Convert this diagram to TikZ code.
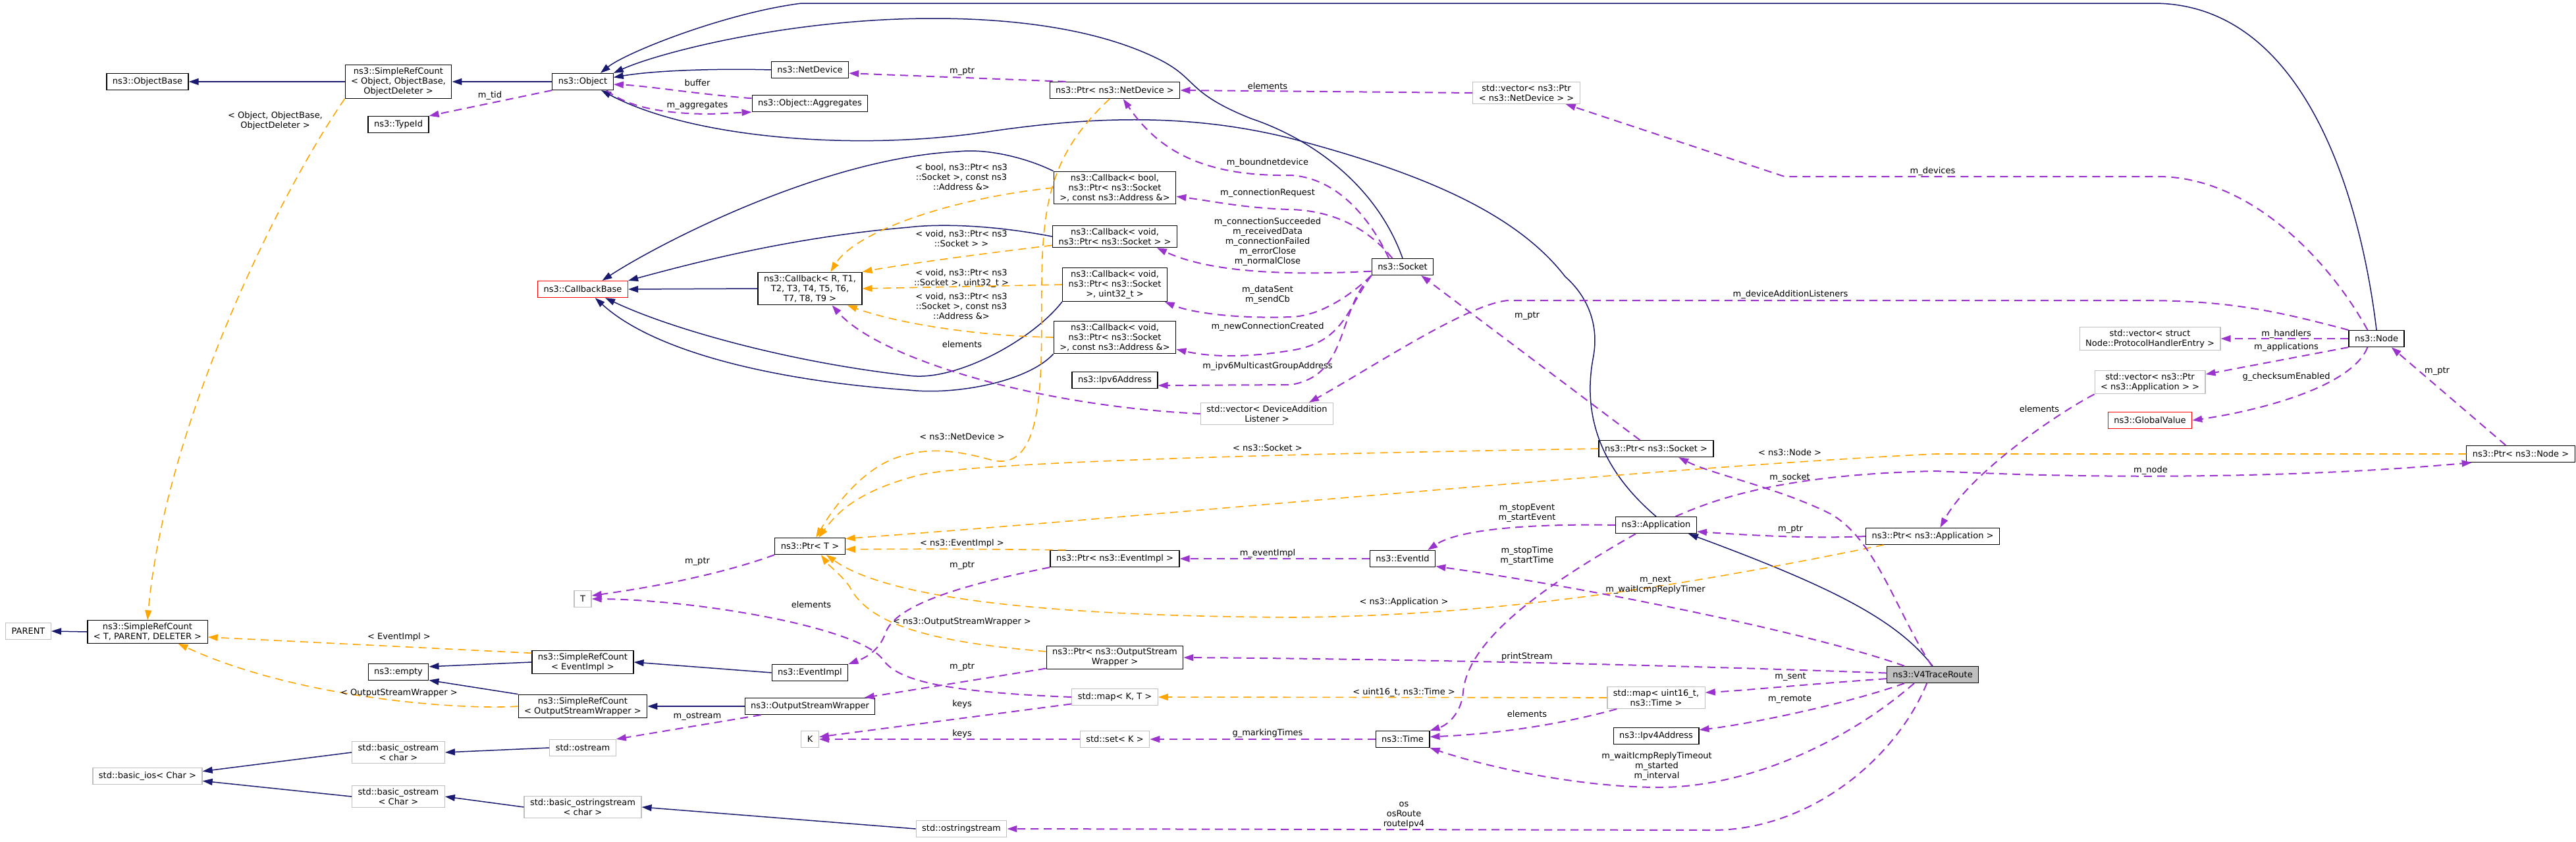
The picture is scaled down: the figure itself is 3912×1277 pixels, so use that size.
\documentclass[tikz,border=0pt]{standalone}
\usepackage{fontspec}
\setmainfont{DejaVu Sans}
\usetikzlibrary{arrows.meta}

\definecolor{inhblue}{HTML}{191970}
\definecolor{usepurple}{HTML}{9A32CD}
\definecolor{tmplorange}{HTML}{FFA500}
\definecolor{undocgray}{HTML}{BFBFBF}

\tikzset{
  dxfont/.style={font=\fontsize{13}{15}\selectfont},
  cls/.style={draw=black, line width=1.2pt, fill=white, align=center, inner xsep=9pt, inner ysep=4pt, minimum height=25pt, dxfont},
  undoc/.style={cls, draw=undocgray},
  trunc/.style={cls, draw=red},
  focus/.style={cls, fill=undocgray},
  inh/.style={->, >={Triangle[length=15pt,width=10pt]}, draw=inhblue, line width=1.5pt},
  use/.style={->, >={Triangle[length=15pt,width=10pt]}, draw=usepurple, line width=2pt, dash pattern=on 12pt off 8pt},
  tmpl/.style={->, >={Triangle[length=15pt,width=10pt]}, draw=tmplorange, line width=1.6pt, dash pattern=on 12pt off 8pt},
  lbl/.style={align=center, inner sep=0pt, dxfont}
}

\begin{document}
\begin{tikzpicture}[x=1pt, y=-1pt]
    \useasboundingbox (0,0) rectangle (3912,1277);

    % Classes, top part
    \node[cls] (obase) at (224,124) {ns3::ObjectBase};
    \node[cls] (srcobj) at (605,124) {ns3::SimpleRefCount\\< Object, ObjectBase,\\ ObjectDeleter >};
    \node[cls] (object) at (885,124) {ns3::Object};
    \node[cls] (typeid) at (605,189) {ns3::TypeId};
    \node[cls] (netdev) at (1230,106) {ns3::NetDevice};
    \node[cls] (aggr) at (1230,157) {ns3::Object::Aggregates};
    \node[cls] (ptrnd) at (1693,137) {ns3::Ptr< ns3::NetDevice >};
    \node[undoc] (vecnd) at (2318,141) {std::vector< ns3::Ptr\\< ns3::NetDevice > >};
    \node[trunc] (cbbase) at (885,439) {ns3::CallbackBase};
    \node[cls] (cbgen) at (1230,438) {ns3::Callback< R, T1,\\ T2, T3, T4, T5, T6,\\ T7, T8, T9 >};
    \node[cls] (cbbool) at (1693,285) {ns3::Callback< bool,\\ ns3::Ptr< ns3::Socket\\ >, const ns3::Address \&>};
    \node[cls] (cbvoid) at (1693,359) {ns3::Callback< void,\\ ns3::Ptr< ns3::Socket > >};
    \node[cls] (cbuint) at (1693,432) {ns3::Callback< void,\\ ns3::Ptr< ns3::Socket\\ >, uint32\_t >};
    \node[cls] (cbaddr) at (1693,512) {ns3::Callback< void,\\ ns3::Ptr< ns3::Socket\\ >, const ns3::Address \&>};
    \node[cls] (ipv6) at (1693,577) {ns3::Ipv6Address};
    \node[undoc] (vecdal) at (1924,628) {std::vector< DeviceAddition\\ Listener >};
    \node[cls] (socket) at (2130,405) {ns3::Socket};
    \node[cls] (ptrsock) at (2515,681) {ns3::Ptr< ns3::Socket >};
    \node[cls] (app) at (2515,797) {ns3::Application};
    \node[cls] (ptrapp) at (2935,814) {ns3::Ptr< ns3::Application >};
    \node[cls] (eventid) at (2130,848) {ns3::EventId};
    \node[cls] (node) at (3609,514) {ns3::Node};
    \node[undoc] (vecphe) at (3265,514) {std::vector< struct\\ Node::ProtocolHandlerEntry >};
    \node[undoc] (vecapp) at (3265,580) {std::vector< ns3::Ptr\\< ns3::Application > >};
    \node[trunc] (gval) at (3265,638) {ns3::GlobalValue};
    \node[cls] (ptrnode) at (3828,689) {ns3::Ptr< ns3::Node >};

    % Classes, bottom part
    \node[cls] (ptrt) at (1230,829) {ns3::Ptr< T >};
    \node[cls] (ptrev) at (1693,848) {ns3::Ptr< ns3::EventImpl >};
    \node[undoc] (tparam) at (885,909) {T};
    \node[undoc] (parent) at (43,958) {PARENT};
    \node[cls] (srct) at (224,959) {ns3::SimpleRefCount\\< T, PARENT, DELETER >};
    \node[cls] (srcev) at (885,1005) {ns3::SimpleRefCount\\< EventImpl >};
    \node[cls] (empty) at (605,1020) {ns3::empty};
    \node[cls] (srcosw) at (885,1072) {ns3::SimpleRefCount\\< OutputStreamWrapper >};
    \node[cls] (evimpl) at (1230,1021) {ns3::EventImpl};
    \node[cls] (osw) at (1230,1072) {ns3::OutputStreamWrapper};
    \node[undoc] (kparam) at (1230,1122) {K};
    \node[cls] (ptrosw) at (1693,998) {ns3::Ptr< ns3::OutputStream\\ Wrapper >};
    \node[undoc] (mapkt) at (1693,1058) {std::map< K, T >};
    \node[undoc] (setk) at (1693,1122) {std::set< K >};
    \node[undoc] (oss) at (1460,1258) {std::ostringstream};
    \node[undoc] (bos1) at (605,1142) {std::basic\_ostream\\< char >};
    \node[undoc] (ostr) at (885,1135) {std::ostream};
    \node[undoc] (bios) at (224,1178) {std::basic\_ios< Char >};
    \node[undoc] (bos2) at (605,1209) {std::basic\_ostream\\< Char >};
    \node[undoc] (bostrs) at (885,1225) {std::basic\_ostringstream\\< char >};
    \node[focus] (v4) at (2935,1024) {ns3::V4TraceRoute};
    \node[undoc] (mapu) at (2515,1059) {std::map< uint16\_t,\\ ns3::Time >};
    \node[cls] (time) at (2130,1122) {ns3::Time};
    \node[cls] (ipv4) at (2515,1117) {ns3::Ipv4Address};

    % Inheritance
    \draw[inh] (srcobj.west) -- (obase.east);
    \draw[inh] (object.west) -- (srcobj.east);
    \draw[inh] (netdev.west) .. controls (1100,104) and (1000,106) .. (object.8);
    \draw[inh] (node.north) .. controls (3585,300) and (3500,5) .. (3270,5) -- (1217,5) .. controls (1100,20) and (950,80) .. (object.26);
    \draw[inh] (socket.north) .. controls (2090,280) and (1990,210) .. (1900,180) .. controls (1800,140) and (1820,120) .. (1760,90) .. controls (1650,35) and (1500,28) .. (1417,28) .. controls (1200,28) and (1000,80) .. (object.north east);
    \draw[inh] (app.north) .. controls (2440,720) and (2400,640) .. (2420,540) .. controls (2430,480) and (2400,440) .. (2377,420) .. controls (2300,320) and (2150,260) .. (1960,210) .. controls (1800,170) and (1650,178) .. (1500,200) .. controls (1300,230) and (1050,210) .. (object.-25);
    \draw[inh] (cbgen.west) -- (cbbase.east);
    \draw[inh] (cbbool.north west) .. controls (1560,240) and (1500,225) .. (1455,230) .. controls (1250,240) and (1000,370) .. (cbbase.24);
    \draw[inh] (cbvoid.west) .. controls (1500,340) and (1420,340) .. (1380,345) .. controls (1200,360) and (1050,400) .. (cbbase.north east);
    \draw[inh] (cbuint.south west) .. controls (1567,517) and (1450,580) .. (1380,570) .. controls (1200,550) and (1020,500) .. (cbbase.-21);
    \draw[inh] (cbaddr.south west) .. controls (1560,580) and (1450,600) .. (1380,592) .. controls (1200,580) and (1000,540) .. (cbbase.-35);
    \draw[inh] (srct.west) -- (parent.east);
    \draw[inh] (srcev.west) -- (empty.10);
    \draw[inh] (srcosw.north west) -- (empty.-15);
    \draw[inh] (evimpl.west) -- (srcev.east);
    \draw[inh] (osw.west) -- (srcosw.east);
    \draw[inh] (bos1.west) -- (bios.5);
    \draw[inh] (bos2.west) -- (bios.-5);
    \draw[inh] (ostr.west) -- (bos1.east);
    \draw[inh] (bostrs.west) -- (bos2.east);
    \draw[inh] (oss.west) -- (bostrs.east);
    \draw[inh] (v4.north) .. controls (2880,940) and (2780,890) .. (app.-15);

    % Template instances
    \draw[tmpl] (srcobj.south west) .. controls (420,300) and (250,650) .. (srct.north);
    \draw[tmpl] (srcev.170) -- (srct.-5);
    \draw[tmpl] (srcosw.west) .. controls (700,1078) and (450,1060) .. (srct.-21);
    \draw[tmpl] (cbbool.west) .. controls (1450,300) and (1300,350) .. (cbgen.39);
    \draw[tmpl] (cbvoid.188) .. controls (1450,390) and (1350,405) .. (cbgen.north east);
    \draw[tmpl] (cbuint.west) -- (cbgen.east);
    \draw[tmpl] (cbaddr.west) .. controls (1480,510) and (1360,490) .. (cbgen.-24);
    \draw[tmpl] (ptrnd.-121) .. controls (1600,230) and (1583,300) .. (1582,430) .. controls (1581,560) and (1590,720) .. (1505,698) .. controls (1440,680) and (1400,680) .. (1355,697) .. controls (1300,720) and (1260,780) .. (ptrt.55);
    \draw[tmpl] (ptrsock.west) .. controls (2000,688) and (1500,700) .. (1400,720) .. controls (1300,745) and (1270,780) .. (ptrt.45);
    \draw[tmpl] (ptrnode.west) -- (2940,689) .. controls (2500,710) and (1800,780) .. (ptrt.12);
    \draw[tmpl] (ptrev.170) .. controls (1450,833) .. (ptrt.-5);
    \draw[tmpl] (ptrosw.175) .. controls (1420,975) and (1320,950) .. (1290,890) .. controls (1275,870) and (1260,860) .. (ptrt.-38);
    \draw[tmpl] (ptrapp.190) .. controls (2600,880) and (2300,935) .. (1960,937) .. controls (1600,935) and (1350,910) .. (ptrt.-28);
    \draw[tmpl] (mapu.west) -- (mapkt.east);

    % Members
    \draw[use] (object.south west) -- (typeid.north east);
    \draw[use] (aggr.175) .. controls (1060,143) and (980,130) .. (object.-5);
    \draw[use] (object.-20) .. controls (950,160) and (1000,173) .. (1080,173) -- (aggr.south west);
    \draw[use] (ptrnd.170) -- (netdev.-5);
    \draw[use] (vecnd.west) -- (ptrnd.east);
    \draw[use] (node.136) .. controls (3540,400) and (3420,268) .. (3277,268) -- (2710,268) -- (vecnd.-16);
    \draw[use] (socket.148) .. controls (2080,330) and (2030,270) .. (1960,266) .. controls (1830,268) and (1760,230) .. (ptrnd.-46);
    \draw[use] (socket.140) .. controls (2080,350) and (2030,320) .. (1960,318) .. controls (1890,316) and (1840,305) .. (cbbool.-8);
    \draw[use] (socket.188) .. controls (2000,416) and (1850,420) .. (cbvoid.-15);
    \draw[use] (socket.south west) .. controls (2060,440) and (2010,480) .. (1960,481) .. controls (1880,484) and (1810,475) .. (cbuint.-19);
    \draw[use] (socket.south west) .. controls (2045,470) and (2040,520) .. (1960,532) .. controls (1880,545) and (1830,540) .. (cbaddr.-11);
    \draw[use] (socket.south west) .. controls (2030,470) and (2050,570) .. (1960,584) -- (ipv6.-7);
    \draw[use] (node.north west) .. controls (3450,470) and (3380,456) .. (3250,456) -- (2291,456) .. controls (2230,460) and (2080,560) .. (vecdal.15);
    \draw[use] (vecdal.west) .. controls (1560,615) and (1330,540) .. (cbgen.-37);
    \draw[use] (ptrsock.152) -- (socket.-25);
    \draw[use] (node.west) -- (vecphe.east);
    \draw[use] (node.south west) -- (vecapp.8);
    \draw[use] (node.-136) .. controls (3570,590) and (3420,625) .. (gval.east);
    \draw[use] (vecapp.south west) .. controls (3120,630) and (2990,720) .. (ptrapp.49);
    \draw[use] (ptrnode.150) -- (node.-30);
    \draw[use] (app.24) .. controls (2600,760) and (2700,720) .. (2940,715) .. controls (3200,728) and (3500,725) .. (ptrnode.-170);
    \draw[use] (app.west) .. controls (2350,795) and (2220,800) .. (eventid.19);
    \draw[use] (ptrapp.west) .. controls (2750,818) and (2650,812) .. (app.-9);
    \draw[use] (app.-157) .. controls (2380,870) and (2230,960) .. (2222,1050) .. controls (2220,1080) and (2200,1100) .. (time.north east);
    \draw[use] (v4.95) .. controls (2880,930) and (2850,820) .. (2780,780) .. controls (2700,740) and (2600,720) .. (ptrsock.-21);
    \draw[use] (v4.163) .. controls (2750,960) and (2400,890) .. (eventid.-13);
    \draw[use] (v4.178) .. controls (2500,1008) and (2100,1000) .. (ptrosw.east);
    \draw[use] (v4.-175) .. controls (2750,1038) and (2650,1048) .. (mapu.6);
    \draw[use] (v4.-163) .. controls (2800,1070) and (2650,1100) .. (ipv4.8);
    \draw[use] (v4.-155) .. controls (2800,1130) and (2650,1195) .. (2520,1195) .. controls (2400,1195) and (2260,1165) .. (time.south east);
    \draw[use] (v4.-124) .. controls (2880,1150) and (2750,1260) .. (2600,1260) -- (oss.east);
    \draw[use] (mapu.-164) .. controls (2350,1105) and (2250,1115) .. (time.5);
    \draw[use] (mapkt.-171) -- (kparam.14);
    \draw[use] (setk.west) -- (kparam.east);
    \draw[use] (time.west) -- (setk.east);
    \draw[use] (mapkt.west) .. controls (1420,1050) and (1360,1030) .. (1340,1000) .. controls (1300,950) and (1050,910) .. (tparam.east);
    \draw[use] (ptrt.south west) .. controls (1100,870) and (1000,890) .. (tparam.20);
    \draw[use] (ptrev.south west) .. controls (1450,890) and (1360,920) .. (1345,960) .. controls (1335,990) and (1310,1000) .. (evimpl.north east);
    \draw[use] (eventid.west) -- (ptrev.east);
    \draw[use] (ptrosw.-171) -- (osw.9);
    \draw[use] (osw.-170) -- (ostr.north east);

    % Edge labels
    \node[lbl] (lobj) at (418,183) {< Object, ObjectBase,\\ ObjectDeleter >};
    \node[lbl] (lmtid) at (744,145) {m\_tid};
    \node[lbl] (lbuffer) at (1059,126) {buffer};
    \node[lbl] (lmaggr) at (1059,160) {m\_aggregates};
    \node[lbl] (lptra) at (1461,108) {m\_ptr};
    \node[lbl] (lelema) at (1925,131) {elements};
    \node[lbl] (lmdev) at (2935,260) {m\_devices};
    \node[lbl] (lbound) at (1925,247) {m\_boundnetdevice};
    \node[lbl] (lbool) at (1460,269) {< bool, ns3::Ptr< ns3\\ ::Socket >, const ns3\\ ::Address \&>};
    \node[lbl] (lconnreq) at (1925,293) {m\_connectionRequest};
    \node[lbl] (lvoid) at (1460,362) {< void, ns3::Ptr< ns3\\ ::Socket > >};
    \node[lbl] (lconnsucc) at (1925,367) {m\_connectionSucceeded\\m\_receivedData\\m\_connectionFailed\\m\_errorClose\\m\_normalClose};
    \node[lbl] (luint) at (1460,423) {< void, ns3::Ptr< ns3\\ ::Socket >, uint32\_t >};
    \node[lbl] (ldata) at (1925,448) {m\_dataSent\\m\_sendCb};
    \node[lbl] (laddr) at (1460,465) {< void, ns3::Ptr< ns3\\ ::Socket >, const ns3\\ ::Address \&>};
    \node[lbl] (lelemb) at (1461,523) {elements};
    \node[lbl] (lnewconn) at (1925,496) {m\_newConnectionCreated};
    \node[lbl] (lipv6) at (1925,556) {m\_ipv6MulticastGroupAddress};
    \node[lbl] (ldal) at (2719,447) {m\_deviceAdditionListeners};
    \node[lbl] (lptrb) at (2319,479) {m\_ptr};
    \node[lbl] (lnd) at (1461,663) {< ns3::NetDevice >};
    \node[lbl] (lsock) at (1925,680) {< ns3::Socket >};
    \node[lbl] (lnode) at (2718,687) {< ns3::Node >};
    \node[lbl] (lmsock) at (2718,725) {m\_socket};
    \node[lbl] (lstopev) at (2319,779) {m\_stopEvent\\m\_startEvent};
    \node[lbl] (lptrc) at (2719,803) {m\_ptr};
    \node[lbl] (lstoptime) at (2319,844) {m\_stopTime\\m\_startTime};
    \node[lbl] (lhandlers) at (3472,507) {m\_handlers};
    \node[lbl] (lapps) at (3472,527) {m\_applications};
    \node[lbl] (lcheck) at (3472,572) {g\_checksumEnabled};
    \node[lbl] (lelemc) at (3097,621) {elements};
    \node[lbl] (lptrd) at (3701,563) {m\_ptr};
    \node[lbl] (lmnode) at (3266,714) {m\_node};
    \node[lbl] (levimpl) at (1461,825) {< ns3::EventImpl >};
    \node[lbl] (leventimpl) at (1925,840) {m\_eventImpl};
    \node[lbl] (lptre) at (1059,852) {m\_ptr};
    \node[lbl] (lptrf) at (1461,858) {m\_ptr};
    \node[lbl] (lnext) at (2514,888) {m\_next\\m\_waitIcmpReplyTimer};
    \node[lbl] (lapp) at (2132,914) {< ns3::Application >};
    \node[lbl] (lelemd) at (1232,918) {elements};
    \node[lbl] (losw) at (1461,944) {< ns3::OutputStreamWrapper >};
    \node[lbl] (levb) at (606,967) {< EventImpl >};
    \node[lbl] (lprint) at (2319,997) {printStream};
    \node[lbl] (lptrg) at (1461,1012) {m\_ptr};
    \node[lbl] (lsent) at (2719,1027) {m\_sent};
    \node[lbl] (luintb) at (2132,1051) {< uint16\_t, ns3::Time >};
    \node[lbl] (loswb) at (606,1052) {< OutputStreamWrapper >};
    \node[lbl] (lremote) at (2718,1061) {m\_remote};
    \node[lbl] (lkeysa) at (1461,1069) {keys};
    \node[lbl] (lelemf) at (2319,1084) {elements};
    \node[lbl] (lostream) at (1059,1087) {m\_ostream};
    \node[lbl] (lkeysb) at (1461,1114) {keys};
    \node[lbl] (lmark) at (1925,1113) {g\_markingTimes};
    \node[lbl] (lwait) at (2516,1163) {m\_waitIcmpReplyTimeout\\m\_started\\m\_interval};
    \node[lbl] (los) at (2132,1237) {os\\osRoute\\routeIpv4};
\end{tikzpicture}
\end{document}
